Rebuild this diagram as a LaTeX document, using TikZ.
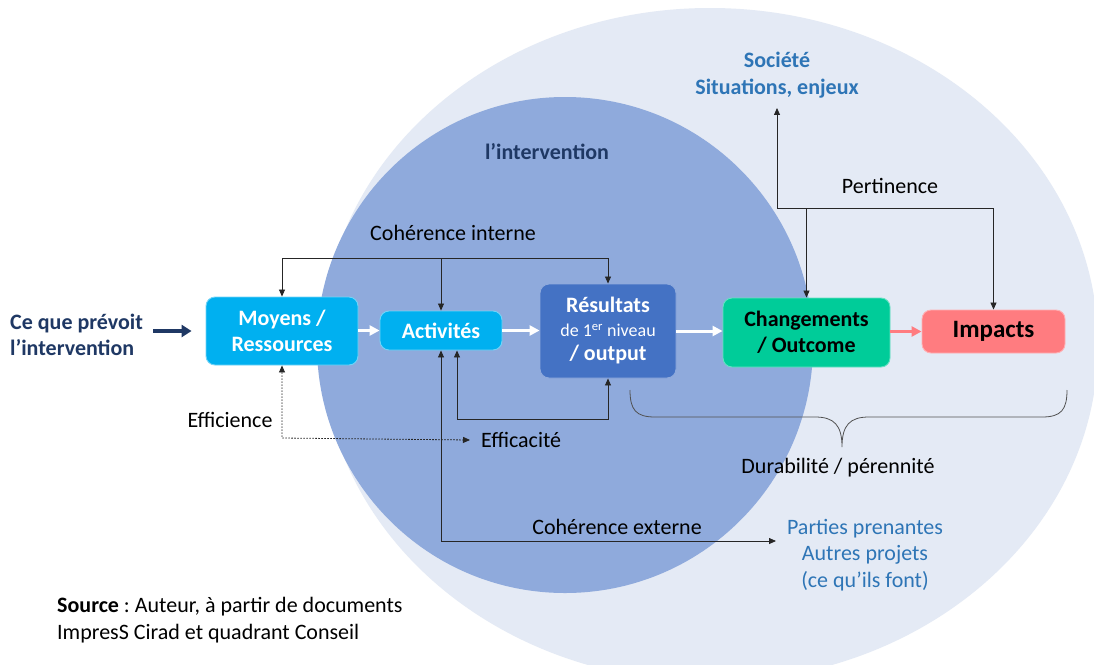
\documentclass[tikz,border=0pt]{standalone}
\usepackage{fontspec}
\setmainfont{Carlito}
\usetikzlibrary{arrows.meta}
\frenchspacing
\definecolor{outerC}{HTML}{E4EAF5}
\definecolor{innerC}{HTML}{8FAADC}
\definecolor{cyanC}{HTML}{00B0F0}
\definecolor{resC}{HTML}{4472C4}
\definecolor{chgC}{HTML}{00CC99}
\definecolor{impC}{HTML}{FF7C80}
\definecolor{navyC}{HTML}{1F3864}
\definecolor{blueT}{HTML}{2E75B6}
\definecolor{lineC}{HTML}{262626}
\begin{document}
\begin{tikzpicture}[x=1pt,y=-1pt,
  >={Triangle[length=7pt,width=6pt]},
  lbl/.style={inner sep=0pt, font=\fontsize{22}{26.4}\selectfont, text=black},
  blbl/.style={inner sep=0pt, font=\fontsize{22}{26.4}\selectfont\bfseries},
  box/.style={rounded corners=9pt, align=center, inner sep=0pt, line width=0.9pt,
              font=\fontsize{22}{26}\selectfont\bfseries},
  conn/.style={draw=lineC, line width=0.8pt},
  dots/.style={draw=lineC, line width=0.8pt, dash pattern=on 1.6pt off 1.4pt},
  warrow/.style={draw=white, line width=3pt, -{Triangle[length=10pt,width=10pt]}},
  parrow/.style={draw=impC, line width=3pt, -{Triangle[length=10pt,width=10pt]}},
  narrow/.style={draw=navyC, line width=4.5pt, -{Triangle[length=10pt,width=12pt]}}
]
\useasboundingbox (0,0) rectangle (1094,664);
\fill[white] (0,0) rectangle (1094,664);
\begin{scope}
  \clip (0,0) rectangle (1094,664);
  \fill[outerC] (710,345) ellipse [x radius=388pt, y radius=337pt];
\end{scope}
\fill[innerC] (565,345) circle [radius=248pt];

% boxes
\node[box, fill=cyanC, draw=cyanC!55!white, text=white, minimum width=152pt, minimum height=68pt] (moy) at (282,331) {Moyens /\\Ressources};
\node[box, fill=cyanC, draw=cyanC!55!white, text=white, minimum width=122pt, minimum height=39pt] (act) at (441,330.5) {Activités};
\node[box, fill=resC, draw=resC!60!white, text=white, minimum width=136pt, minimum height=94pt] (res) at (608,331)
  {Résultats\\[-2pt]{\mdseries\fontsize{18}{22}\selectfont de 1\textsuperscript{er} niveau}\\[-2pt]/ output};
\node[box, fill=chgC, draw=chgC!60!white, text=black, minimum width=167pt, minimum height=69pt] (chg) at (806.5,332.5) {Changements\\/ Outcome};
\node[box, fill=impC, draw=impC!60!white, text=black, minimum width=143pt, minimum height=43pt,
      font=\fontsize{25}{30}\selectfont\bfseries] (imp) at (993.5,331.5) {Impacts};

% texts
\node[blbl, text=navyC, align=left, anchor=west] (cqp) at (10,335) {Ce que prévoit\\l’intervention};
\node[blbl, text=navyC] (lint) at (547,152) {l’intervention};
\node[blbl, text=blueT, align=center] (soc) at (777,75) {Société\\Situations, enjeux};
\node[lbl] (cint) at (453,233) {Cohérence interne};
\node[lbl] (pert) at (890,186) {Pertinence};
\node[lbl] (effi) at (230,420) {Efficience};
\node[lbl, anchor=west] (effa) at (481,440) {Efficacité};
\node[lbl] (cext) at (617,527) {Cohérence externe};
\node[lbl] (dur) at (838,468) {Durabilité / pérennité};
\node[lbl, text=blueT, align=center] (pp) at (865,555) {Parties prenantes\\Autres projets\\(ce qu’ils font)};
\node[lbl, align=left, anchor=west] (src) at (57,620) {\textbf{Source} : Auteur, à partir de documents\\ImpresS Cirad et quadrant Conseil};

% main flow arrows
\draw[narrow, shorten <=10pt, shorten >=14pt] (cqp.east |- moy.west) -- (moy.west);
\draw[warrow] (moy.east |- act.west) -- (act.west);
\draw[warrow] (act.east) -- (act.east -| res.west);
\draw[warrow] (res.east) -- (res.east -| chg.west);
\draw[parrow] (chg.east |- imp.west) -- (imp.west);

% coherence interne
\coordinate (ciL) at (282,258);
\coordinate (ciR) at (608,258);
\draw[conn] (ciL) -- (ciR);
\draw[conn,->] (ciL) -- (moy.north);
\draw[conn,->] (act.north |- ciL) -- (act.north);
\draw[conn,->] (ciR) -- (res.north);

% pertinence
\coordinate (pL) at (777,208);
\coordinate (pR) at (993.5,208);
\draw[conn,->, shorten >=10pt] (pL) -- (pL |- soc.south);
\draw[conn] (pL) -- (pR);
\draw[conn,->] (chg.north |- pL) -- (chg.north);
\draw[conn,->] (pR) -- (imp.north);

% efficacite
\coordinate (e1) at (457,419);
\coordinate (e2) at (608,419);
\draw[conn,<->] ([xshift=16pt]act.south) -- (e1) -- (e2) -- (res.south);

% efficience (dotted)
\coordinate (f1) at (282,438);
\draw[dots,<->] (moy.south) -- (f1) -- ([xshift=-11pt]effa.west);

% coherence externe
\coordinate (x1) at (441,541);
\coordinate (x2) at (776,541);
\draw[conn,<->] (act.south) -- (x1) -- (x2);

% brace durabilite
\draw[draw=lineC!80, line width=0.8pt]
  (630,390) .. controls (630,410) and (636,417) .. (655,417) -- (815,417)
  .. controls (834,417) and (842,425) .. (842,447)
  .. controls (842,425) and (850,417) .. (869,417) -- (1042,417)
  .. controls (1061,417) and (1067,410) .. (1067,390);
\end{tikzpicture}
\end{document}
